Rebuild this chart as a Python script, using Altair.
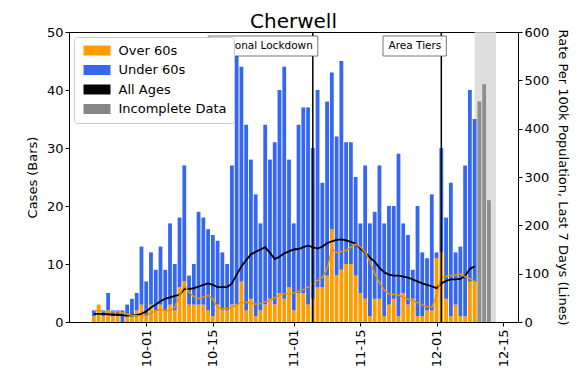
import altair as alt
import pandas as pd

# ---------------- data ----------------
first_day = "2020-09-20"
total_cases = [2, 3, 2, 5, 2, 2, 2, 3, 4, 5, 13,
               7, 12, 9, 13, 9, 17, 10, 18, 27, 8, 10, 19, 18, 16, 15, 14, 12, 10, 27, 46,
               44, 34, 28, 22, 17, 34, 28, 31, 40, 44, 28,
               17, 34, 37, 37, 30, 40, 24, 38, 43, 32, 45, 31, 31, 25, 17, 27, 17, 19, 27, 17,
               20, 20, 29, 17, 15, 9, 20, 12, 11, 22,
               12, 30, 18, 24, 12, 13, 27, 40, 35]
over60_cases = [1, 3, 1, 2, 1, 1, 0, 1, 1, 2, 3,
                1, 3, 2, 3, 2, 3, 2, 6, 7, 3, 3, 3, 3, 2, 1, 3, 2, 2, 3, 3,
                7, 2, 4, 1, 2, 3, 4, 3, 5, 4, 6,
                2, 5, 5, 3, 4, 6, 6, 8, 16, 8, 9, 10, 10, 8, 5, 4, 1, 4, 4, 1,
                3, 4, 1, 5, 3, 4, 1, 1, 2, 2,
                11, 12, 4, 1, 3, 1, 1, 7, 7]
rate_all_ages = [17, 17, 17, 16, 15, 15, 14, 13, 14, 14, 17,
                 22, 30, 36, 43, 48, 51, 54, 56, 68, 68, 70, 73, 77, 80, 77, 72, 72, 72, 80, 98,
                 115, 128, 140, 145, 150, 155, 143, 130, 135, 142, 146,
                 150, 151, 155, 158, 155, 152, 156, 163, 167, 170, 171, 169, 166, 162, 152, 144,
                 133, 125, 112, 103, 98, 96, 96, 94, 92, 88, 84, 80, 77, 74,
                 70, 80, 85, 88, 88, 89, 95, 110, 115]
rate_over60 = [23, 24, 22, 20, 21, 21, 19, 16, 14, 13, 13,
               14, 18, 24, 25, 24, 23, 30, 55, 75, 62, 52, 48, 52, 55, 48, 30, 27, 28, 30, 36,
               40, 41, 40, 37, 38, 42, 45, 50, 56, 58, 58,
               60, 63, 67, 72, 79, 86, 92, 110, 150, 144, 146, 148, 155, 161, 155, 145,
               125, 100, 82, 66, 58, 57, 56, 51, 47, 44, 40, 35, 32, 30,
               55, 92, 94, 96, 97, 99, 94, 90, 85]
incomplete_days = ["2020-12-10", "2020-12-11", "2020-12-12"]
incomplete_cases = [38, 41, 21]
incomplete_span = ["2020-12-09", "2020-12-13T12:00"]
event_labels = ["National Lockdown", "Area Tiers"]
event_days = ["2020-11-05", "2020-12-02"]
x_ticks = ["2020-10-01", "2020-10-15", "2020-11-01", "2020-11-15", "2020-12-01", "2020-12-15"]
x_range = ["2020-09-14T18:40", "2020-12-18T02:40"]
legend_labels = ["Over 60s", "Under 60s", "All Ages", "Incomplete Data"]

# ---------------- styling ----------------
ORANGE = "#ff9d00"
BLUE = "#3567f0"
GREY = "#858585"
FONT = "DejaVu Sans"
DAY = 86400000
HALF = 0.4 * DAY
ANNOT_SIZE = 10.5
# DejaVu Sans advance widths (per 2048 em) for annotation box sizing
ADV = {"N": 1532, "a": 1255, "t": 803, "i": 569, "o": 1253, "n": 1298, "l": 569, " ": 651,
       "L": 1141, "c": 1126, "k": 1186, "d": 1300, "w": 1675, "A": 1401, "r": 842,
       "e": 1260, "T": 1251, "s": 1067}


def to_ms(s):
    return int(pd.Timestamp(s, tz="UTC").value // 10**6)


def text_width(s, size):
    return sum(ADV.get(ch, 1250) for ch in s) / 2048 * size


days = pd.date_range(first_day, periods=len(total_cases), freq="D", tz="UTC")
day_ms = [int(d.value // 10**6) for d in days]

bar_rows = []
for t, tot, o in zip(day_ms, total_cases, over60_cases):
    bar_rows.append(dict(x0=t - HALF, x1=t + HALF, y0=0, y1=o, group=legend_labels[0]))
    bar_rows.append(dict(x0=t - HALF, x1=t + HALF, y0=o, y1=tot, group=legend_labels[1]))
bars_df = pd.DataFrame(bar_rows)

inc_df = pd.DataFrame({
    "x0": [to_ms(d) - HALF for d in incomplete_days],
    "x1": [to_ms(d) + HALF for d in incomplete_days],
    "y0": [0] * len(incomplete_cases),
    "y1": incomplete_cases,
})
band_df = pd.DataFrame({"x0": [to_ms(incomplete_span[0])], "x1": [to_ms(incomplete_span[1])],
                        "y0": [0], "y1": [50]})
lines_df = pd.DataFrame({"x": day_ms, "all": rate_all_ages, "over": rate_over60})
events_df = pd.DataFrame({"x": [to_ms(d) for d in event_days], "label": event_labels})

xscale = alt.Scale(type="utc", domain=[to_ms(x_range[0]), to_ms(x_range[1])])
yscale = alt.Scale(domain=[0, 50])
rscale = alt.Scale(domain=[0, 600])

xaxis = alt.Axis(values=[to_ms(t) for t in x_ticks],
                 labelExpr="utcFormat(datum.value, '%m-%d')",
                 labelAngle=270, title=None, tickSize=4, labelPadding=3)
yaxis = alt.Axis(title="Cases (Bars)", values=[0, 10, 20, 30, 40, 50],
                 tickSize=4, titlePadding=7)
raxis = alt.Axis(orient="right", title="Rate Per 100k Population, Last 7 Days (Lines)",
                 values=list(range(0, 601, 100)), tickSize=4, titlePadding=7)


def X(field):
    return alt.X(field, scale=xscale, axis=xaxis)


legend = alt.Legend(orient="none", legendX=5, legendY=5, title=None,
                    symbolType="M-2.7,-1L2.7,-1L2.7,1L-2.7,1Z", symbolSize=100,
                    symbolStrokeWidth=0, symbolOffset=9.5, labelOffset=15,
                    padding=7, rowPadding=5.5, labelFontSize=13, labelFont=FONT,
                    labelColor="black", fillColor="white", strokeColor="#cccccc",
                    cornerRadius=3)

band = alt.Chart(band_df).mark_rect(color="#d6d6d6", opacity=0.8).encode(
    x=X("x0:T"), x2="x1:T",
    y=alt.Y("y0:Q", scale=yscale, axis=yaxis), y2="y1:Q")

bars = alt.Chart(bars_df).mark_bar().encode(
    x=X("x0:T"), x2="x1:T",
    y=alt.Y("y0:Q", scale=yscale, axis=yaxis), y2="y1:Q",
    color=alt.Color("group:N",
                    scale=alt.Scale(domain=legend_labels, range=[ORANGE, BLUE, "black", GREY]),
                    legend=legend))

incomplete = alt.Chart(inc_df).mark_bar(color=GREY, opacity=0.9).encode(
    x=X("x0:T"), x2="x1:T",
    y=alt.Y("y0:Q", scale=yscale, axis=yaxis), y2="y1:Q")

cases_layer = alt.layer(band, bars, incomplete)

line_all = alt.Chart(lines_df).mark_line(color="black", strokeWidth=1.8).encode(
    x=X("x:T"), y=alt.Y("all:Q", scale=rscale, axis=raxis))
line_over = alt.Chart(lines_df).mark_line(color="#ea9200", strokeWidth=1.5).encode(
    x=X("x:T"), y=alt.Y("over:Q", scale=rscale, axis=raxis))
rate_layer = alt.layer(line_all, line_over)

rules = alt.Chart(events_df).mark_rule(color="black", strokeWidth=1.5).encode(x=X("x:T"))

annots = [rules]
for lab in event_labels:
    w = text_width(lab, ANNOT_SIZE)
    sub = alt.Chart(events_df).transform_filter(alt.datum.label == lab)
    annots.append(sub.mark_rect(fill="white", stroke="#555555", strokeWidth=0.8,
                                xOffset=-(w + 5), x2Offset=5).encode(
        x=X("x:T"), x2="x:T", y=alt.value(4), y2=alt.value(24)))
    annots.append(sub.mark_text(align="right", baseline="middle", font=FONT,
                                fontSize=ANNOT_SIZE, color="black").encode(
        x=X("x:T"), y=alt.value(14), text="label:N"))
annot_layer = alt.layer(*annots)

chart = alt.layer(cases_layer, rate_layer, annot_layer).resolve_scale(
    y="independent"
).properties(
    width=449, height=290,
    title=alt.TitleParams("Cherwell", fontSize=20, font=FONT, fontWeight="normal",
                          anchor="middle", offset=-6, color="black"),
    padding={"left": 18, "top": 4, "right": 2, "bottom": 2},
).configure_axis(
    labelFont=FONT, titleFont=FONT, labelFontSize=13, titleFontSize=13,
    titleFontWeight="normal", labelColor="black", titleColor="black",
    domainColor="black", tickColor="black", grid=False,
).configure_view(stroke="black", strokeWidth=1)

chart.save("out.html", embed_options={"renderer": "svg", "actions": False})
